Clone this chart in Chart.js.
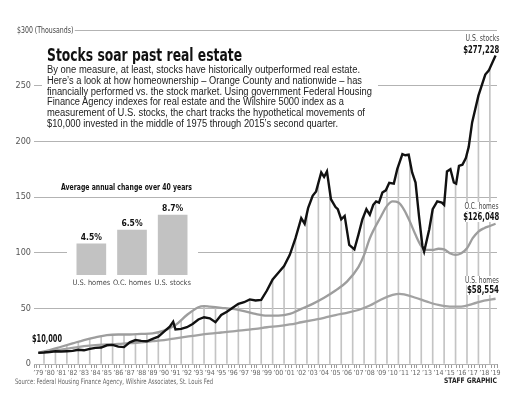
<!DOCTYPE html>
<html>
<head>
<meta charset="utf-8">
<script src="https://cdn.jsdelivr.net/npm/chart.js@4.4.0/dist/chart.umd.min.js"></script>
<style>
  html, body { margin: 0; padding: 0; background: #fff; }
  #wrap { position: relative; width: 508px; height: 393px; overflow: hidden; color: #111;
          font-family: "Liberation Sans", Arial, sans-serif; }
  #main { position: absolute; left: 0; top: 0; }
  .tx { position: absolute; white-space: nowrap; line-height: 1; display: inline-block; transform-origin: 0 50%; }
  .rt { transform-origin: 100% 50%; }
  .nar { font-family: "Liberation Sans Narrow", "DejaVu Sans Condensed", "Roboto Condensed", "Liberation Sans", sans-serif; }
  .b { font-weight: bold; }
  #para { position: absolute; left: 42px; top: 64px; width: 336px; height: 67px; background: #fff; }
  #insetBox { position: absolute; left: 67px; top: 200px; width: 131px; height: 92px; background: #fff; }
  .bg { background: #fff; }
</style>
</head>
<body>
<div id="wrap">
  <canvas id="main" width="508" height="393"></canvas>

  <span class="tx nar bg" data-w="58" style="left:17px;top:25.5px;font-size:9px;color:#444;padding-right:2px;">$300 (Thousands)</span>

  <span class="tx nar b" data-w="195" style="left:47px;top:45.9px;font-size:18px;color:#111;">Stocks soar past real estate</span>

  <div id="para"></div>
  <span class="tx" data-w="313" style="left:47px;top:65.2px;font-size:10px;color:#222;">By one measure, at least, stocks have historically outperformed real estate.</span>
  <span class="tx" data-w="315" style="left:47px;top:75.9px;font-size:10px;color:#222;">Here’s a look at how homeownership – Orange County and nationwide – has</span>
  <span class="tx" data-w="325" style="left:47px;top:86.5px;font-size:10px;color:#222;">financially performed vs. the stock market. Using government Federal Housing</span>
  <span class="tx" data-w="297" style="left:47px;top:97.2px;font-size:10px;color:#222;">Finance Agency indexes for real estate and the Wilshire 5000 index as a</span>
  <span class="tx" data-w="318" style="left:47px;top:107.9px;font-size:10px;color:#222;">measurement of U.S. stocks, the chart tracks the hypothetical movements of</span>
  <span class="tx" data-w="291" style="left:47px;top:118.6px;font-size:10px;color:#222;">$10,000 invested in the middle of 1975 through 2015’s second quarter.</span>

  <span class="tx nar b" data-w="131" style="left:61px;top:182.9px;font-size:8.5px;color:#111;">Average annual change over 40 years</span>
  <div id="insetBox"><canvas id="inset" width="131" height="92"></canvas></div>

  <span class="tx nar rt" data-w="34" style="right:9px;top:34px;font-size:9px;color:#444;">U.S. stocks</span>
  <span class="tx nar b rt bg" data-w="36" style="right:9px;top:45.2px;font-size:10px;color:#111;">$277,228</span>
  <span class="tx nar rt bg" data-w="34" style="right:9px;top:202.4px;font-size:9px;color:#444;">O.C. homes</span>
  <span class="tx nar b rt bg" data-w="36" style="right:9px;top:211.9px;font-size:10px;color:#111;">$126,048</span>
  <span class="tx nar rt bg" data-w="34" style="right:9px;top:275.7px;font-size:9px;color:#444;">U.S. homes</span>
  <span class="tx nar b rt bg" data-w="32" style="right:9px;top:284.7px;font-size:10px;color:#111;">$58,554</span>

  <span class="tx nar b" data-w="30" style="left:32px;top:334.2px;font-size:10px;color:#111;">$10,000</span>

  <span class="tx nar" data-w="198" style="left:15px;top:378.4px;font-size:7.5px;color:#666;">Source: Federal Housing Finance Agency, Wilshire Associates, St. Louis Fed</span>
  <span class="tx nar b" data-w="53" style="left:444px;top:377.4px;font-size:7.5px;color:#222;">STAFF GRAPHIC</span>
</div>

<script>
// Valores (miles de dolares)
const stockYears = [1979.5, 1980.0, 1980.5, 1981.0, 1981.5, 1982.0, 1982.5, 1983.0, 1983.5, 1984.0,
  1984.5, 1985.0, 1985.5, 1986.0, 1986.5, 1987.0, 1987.5, 1988.0, 1988.5, 1989.0,
  1989.5, 1990.0, 1990.5, 1991.0, 1991.3, 1991.5, 1992.0, 1992.5, 1993.0, 1993.5,
  1994.0, 1994.5, 1995.0, 1995.5, 1996.0, 1996.5, 1997.0, 1997.5, 1998.0, 1998.5,
  1999.0, 1999.5, 2000.0, 2000.5, 2001.0, 2001.5, 2002.0, 2002.5, 2002.8, 2003.1,
  2003.5, 2003.8, 2004.25, 2004.5, 2004.75, 2005.1, 2005.5, 2005.7, 2006.0, 2006.3,
  2006.7, 2007.15, 2007.5, 2007.85, 2008.2, 2008.5, 2008.8, 2009.05, 2009.3, 2009.6,
  2009.9, 2010.2, 2010.6, 2010.9, 2011.35, 2011.6, 2011.9, 2012.2, 2012.5, 2012.8,
  2013.1, 2013.25, 2013.5, 2013.7, 2014.0, 2014.4, 2014.8, 2015.0, 2015.25, 2015.55,
  2015.85, 2016.05, 2016.3, 2016.6, 2016.9, 2017.15, 2017.45, 2018.0, 2018.6, 2018.9, 2019.5];
const stockValues = [10, 10.3, 10.8, 11.5, 11.2, 11.5, 11.8, 12.8, 12.3, 13.6,
  14.5, 14.8, 16.8, 17.2, 15.6, 15.2, 19.5, 21.5, 20.8, 20.4,
  22.6, 24.5, 29, 33.5, 38, 31, 31.5, 33, 36, 40,
  42, 41, 37.5, 44, 47, 50.5, 54, 55.5, 58, 57,
  57.5, 66, 76, 82, 88, 98, 113, 131, 126, 140,
  151, 155, 172, 168, 173, 148, 141, 139, 130, 133,
  107, 103, 116, 130, 139, 134, 143, 146, 145, 154,
  156, 162.7, 162, 175, 188.5, 187.5, 188, 172, 163, 133,
  106, 101, 112, 121, 139, 146, 145, 143, 173, 175,
  163, 162, 178, 179, 185, 195, 217, 241, 260, 263.5, 277.2];

const ocYears = [1979.5, 1980.5, 1981.5, 1982.5, 1983.5, 1984.5, 1985.5, 1986.5, 1987.5, 1988.5,
  1989.5, 1990.5, 1991.5, 1992.5, 1993.5, 1994.0, 1994.5, 1995.5, 1996.5, 1997.5,
  1998.5, 1999.5, 2000.5, 2001.5, 2002.5, 2003.5, 2004.5, 2005.5, 2006.5, 2007.5,
  2008.0, 2008.5, 2009.5, 2010.0, 2010.5, 2011.0, 2011.5, 2012.0, 2012.5, 2013.0,
  2013.5, 2014.0, 2014.5, 2015.0, 2015.5, 2016.0, 2016.5, 2017.0, 2017.5, 2018.0,
  2018.5, 2019.0, 2019.5];
const ocValues = [10, 12.5, 15.5, 18.5, 21.5, 24, 26, 26.5, 26.5, 27,
  27.5, 30, 35, 44, 51, 52, 51.5, 50.5, 49.5, 47.5,
  45, 43.5, 43.5, 45, 49.5, 54, 59.5, 66, 74, 87,
  98, 113, 133, 142, 146, 145, 138.5, 128, 116, 106,
  102.5, 102.5, 103.5, 103, 99.5, 98, 99.5, 104, 113, 119,
  122, 124, 126];

const usYears = [1979.5, 1980.5, 1981.5, 1982.5, 1983.5, 1984.5, 1985.5, 1986.5, 1987.5, 1988.5,
  1989.5, 1990.5, 1991.5, 1992.5, 1993.5, 1994.5, 1995.5, 1996.5, 1997.5, 1998.5,
  1999.5, 2000.5, 2001.5, 2002.5, 2003.5, 2004.5, 2005.5, 2006.5, 2007.5, 2008.5,
  2009.5, 2010.5, 2011.1, 2011.5, 2012.5, 2013.5, 2014.5, 2015.5, 2016.5, 2017.5,
  2018.5, 2019.5];
const usValues = [10, 11.5, 13, 14.5, 16, 17, 17.5, 18, 18.7, 19.5,
  20.5, 21.5, 23, 24.5, 26, 27.3, 28.3, 29.3, 30.5, 31.5,
  33, 34, 35.5, 37.5, 39.5, 41.5, 44, 46, 48.5, 52.5,
  58, 62, 63, 62.5, 59.5, 56, 53, 51.5, 51.5, 54,
  57, 58.6];

const yearLabels = ['’79', '’80', '’81', '’82', '’83', '’84', '’85', '’86', '’87', '’88',
  '’89', '’90', '’91', '’92', '’93', '’94', '’95', '’96', '’97', '’98',
  '’99', '’00', '’01', '’02', '’03', '’04', '’05', '’06', '’07', '’08',
  '’09', '’10', '’11', '’12', '’13', '’14', '’15', '’16', '’17', '’18', '’19'];
const dropYears = [1980, 1981, 1982, 1983, 1984, 1985, 1986, 1987, 1988, 1989,
  1990, 1991, 1992, 1993, 1994, 1995, 1996, 1997, 1998, 1999,
  2000, 2001, 2002, 2003, 2004, 2005, 2006, 2007, 2008, 2009,
  2010, 2011, 2012, 2013, 2014, 2015, 2016, 2017, 2018, 2019];

// Recuadro: variacion anual media
const avgLabels = ['U.S. homes', 'O.C. homes', 'U.S. stocks'];
const avgValues = [4.5, 6.5, 8.7];

// Fuente estrecha disponible
function pickFont(list) {
  const c = document.createElement('canvas').getContext('2d');
  const s = 'abcdefghijklmnopqrstuvwxyz0123456789';
  c.font = '20px monospace'; const m = c.measureText(s).width;
  c.font = '20px serif'; const sf = c.measureText(s).width;
  for (const f of list) {
    c.font = `20px "${f}", monospace`; const a = c.measureText(s).width;
    c.font = `20px "${f}", serif`; const b = c.measureText(s).width;
    if (a !== m || b !== sf) return f;
  }
  return null;
}
const narrow = pickFont(['Liberation Sans Narrow', 'DejaVu Sans Condensed', 'Roboto Condensed', 'Arial Narrow']);
const tickFamily = narrow ? `"${narrow}"` : '"Liberation Sans"';
const k = narrow ? 1 : 0.85;

// Ajustar ancho de los textos
document.querySelectorAll('[data-w]').forEach(el => {
  const w = el.getBoundingClientRect().width;
  el.style.transform = `scaleX(${(+el.dataset.w / w).toFixed(4)})`;
});

function toPoints(xs, ys) {
  return xs.map((x, i) => ({ x: x, y: ys[i] }));
}
function valueAt(xs, ys, x) {
  for (let i = 1; i < xs.length; i++) {
    if (x <= xs[i]) {
      const t = (x - xs[i - 1]) / (xs[i] - xs[i - 1]);
      return ys[i - 1] + t * (ys[i] - ys[i - 1]);
    }
  }
  return ys[ys.length - 1];
}
const dropValues = dropYears.map(x => Math.max(
  valueAt(stockYears, stockValues, x),
  valueAt(ocYears, ocValues, x),
  valueAt(usYears, usValues, x)
));

new Chart(document.getElementById('main').getContext('2d'), {
  type: 'line',
  data: {
    datasets: [
      {
        label: 'U.S. stocks', data: toPoints(stockYears, stockValues),
        borderColor: '#111', borderWidth: 2.4, pointRadius: 0, tension: 0, order: 0
      },
      {
        label: 'O.C. homes', data: toPoints(ocYears, ocValues),
        borderColor: '#9d9d9d', borderWidth: 2.3, pointRadius: 0,
        cubicInterpolationMode: 'monotone', order: 1
      },
      {
        label: 'U.S. homes', data: toPoints(usYears, usValues),
        borderColor: '#a2a2a2', borderWidth: 2.3, pointRadius: 0,
        cubicInterpolationMode: 'monotone', order: 2
      },
      {
        type: 'bar', label: 'drop', data: toPoints(dropYears, dropValues),
        backgroundColor: '#c4c4c4', barThickness: 1, order: 5
      }
    ]
  },
  options: {
    responsive: false,
    animation: false,
    devicePixelRatio: 1,
    layout: { padding: { top: 30, right: 11, bottom: 17, left: 0 } },
    plugins: { legend: { display: false }, tooltip: { enabled: false } },
    scales: {
      x: {
        type: 'linear', min: 1979.25, max: 2019.5,
        afterFit: s => { s.height = 12; },
        border: { display: false },
        grid: {
          drawOnChartArea: false, drawTicks: true, tickLength: 4, lineWidth: 1,
          color: c => (c.tick && c.tick.value % 1 === 0) ? 'rgba(0,0,0,0)' : '#9a9a9a'
        },
        ticks: {
          stepSize: 0.25, autoSkip: false, maxRotation: 0, minRotation: 0, padding: 1,
          color: '#666', font: { family: tickFamily, size: 7 * k },
          callback: v => (Math.abs(v % 1 - 0.5) < 1e-6) ? yearLabels[Math.floor(v) - 1979] : ''
        }
      },
      y: {
        min: 0, max: 300,
        afterFit: s => { s.width = 34; },
        border: { display: false },
        grid: { color: '#b3b3b3', lineWidth: 1, drawTicks: false },
        ticks: {
          stepSize: 50, padding: 3, color: '#555',
          font: { family: tickFamily, size: 9 * k },
          callback: v => v === 300 ? '' : v
        }
      }
    }
  }
});

// Etiquetas de valor sobre las barras del recuadro
const valueLabels = {
  id: 'valueLabels',
  afterDatasetsDraw(chart) {
    const ctx = chart.ctx;
    const meta = chart.getDatasetMeta(0);
    ctx.save();
    ctx.fillStyle = '#111';
    ctx.font = `bold ${8.5 * k}px ${tickFamily}`;
    ctx.textAlign = 'center';
    ctx.textBaseline = 'bottom';
    meta.data.forEach((bar, i) => {
      ctx.fillText(avgValues[i].toFixed(1) + '%', bar.x, bar.y - 2);
    });
    ctx.restore();
  }
};

new Chart(document.getElementById('inset').getContext('2d'), {
  type: 'bar',
  data: {
    labels: avgLabels,
    datasets: [{ data: avgValues, backgroundColor: '#c2c2c2', barThickness: 29 }]
  },
  options: {
    responsive: false,
    animation: false,
    devicePixelRatio: 1,
    layout: { padding: { top: 6, right: 5, bottom: 0, left: 4 } },
    plugins: { legend: { display: false }, tooltip: { enabled: false } },
    scales: {
      x: {
        afterFit: s => { s.height = 17; },
        border: { display: false },
        grid: { display: false, drawTicks: false },
        ticks: {
          padding: 4, color: '#444', autoSkip: false, maxRotation: 0, minRotation: 0,
          font: { family: tickFamily, size: 7.4 * k }
        }
      },
      y: { display: false, min: 0, max: 10 }
    }
  },
  plugins: [valueLabels]
});
</script>
</body>
</html>
